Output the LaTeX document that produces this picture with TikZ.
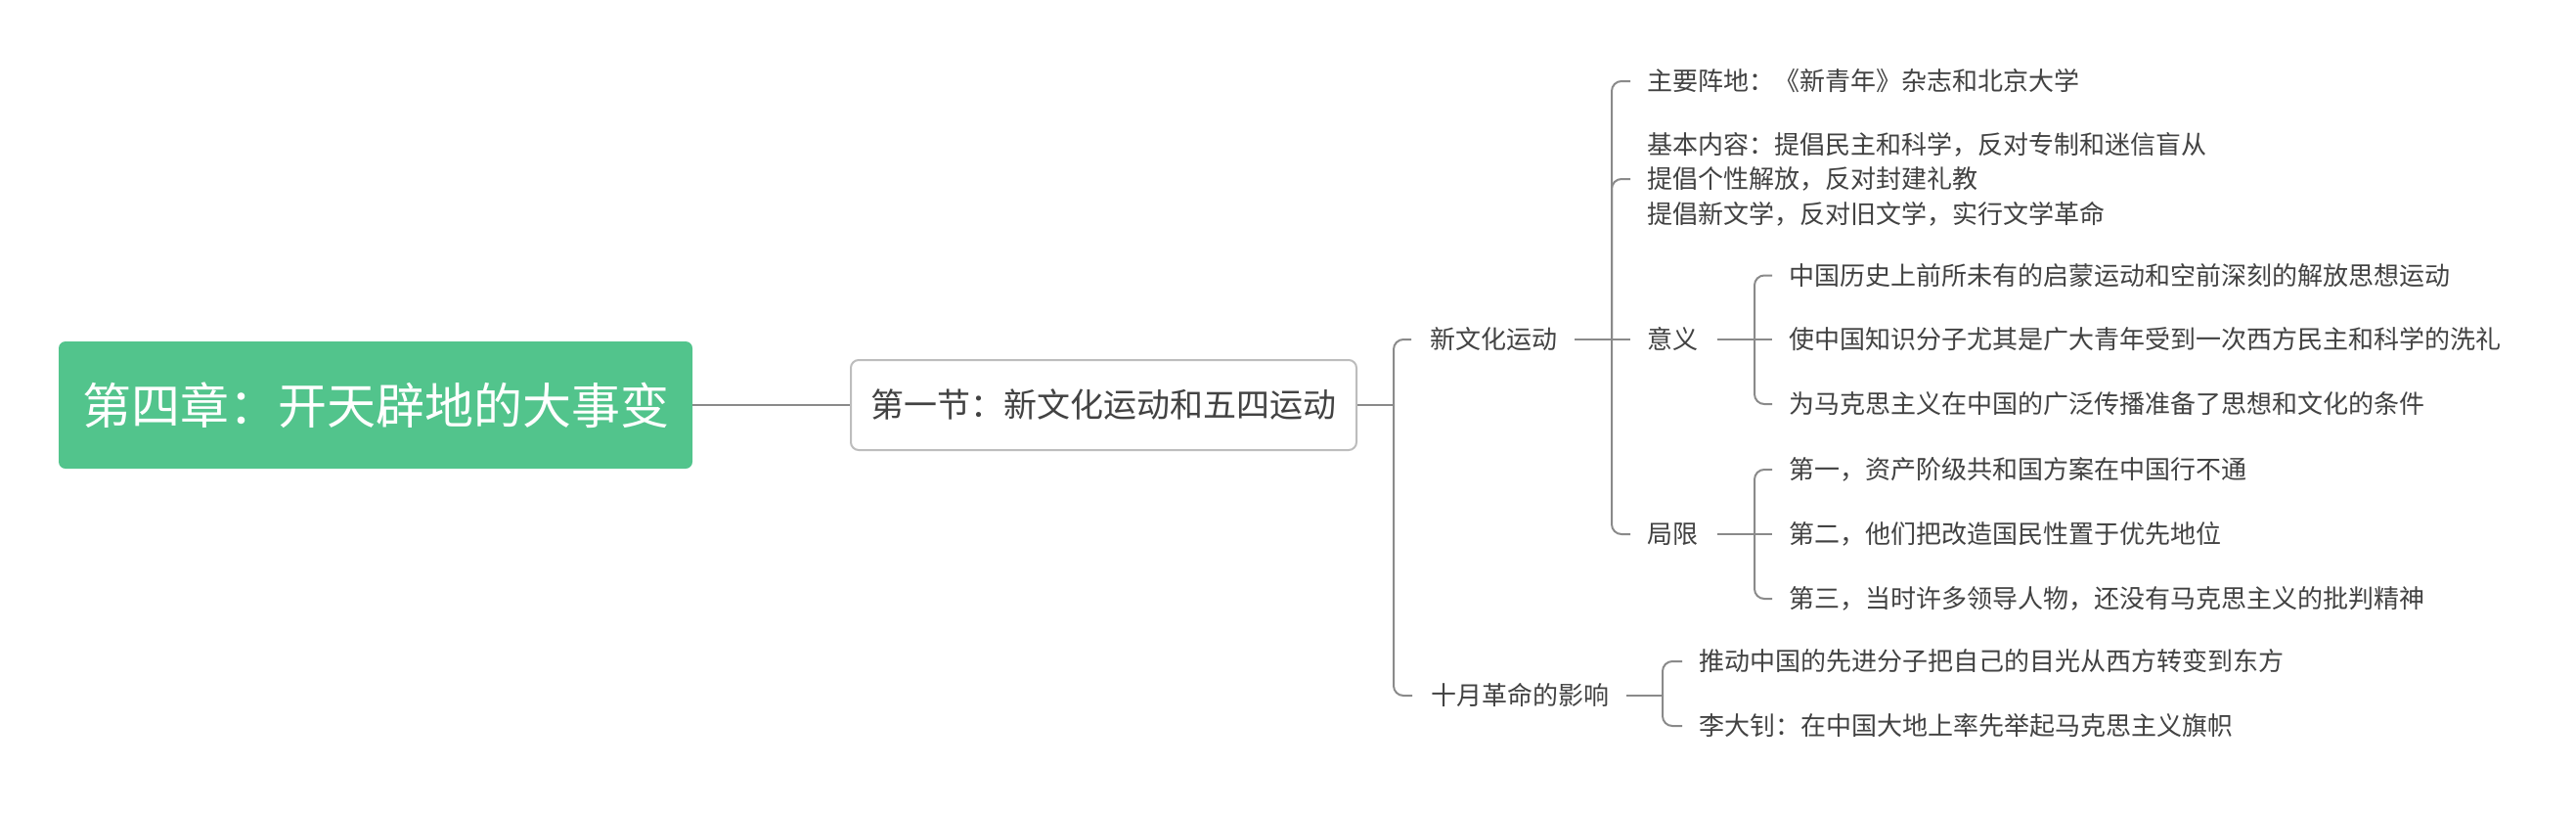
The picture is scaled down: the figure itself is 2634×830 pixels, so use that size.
\documentclass[tikz,border=0pt]{standalone}
\usepackage{fontspec}
\setmainfont{Noto Sans CJK SC}
\definecolor{rootgreen}{HTML}{52C48C}
\definecolor{linegray}{HTML}{8A8A8A}
\definecolor{txtgray}{HTML}{424242}
\definecolor{boxgray}{HTML}{BDBDBD}
\begin{document}
\begin{tikzpicture}[x=1pt,y=-1pt,
 rootbox/.style={rectangle, fill=rootgreen, rounded corners=7pt, minimum width=648pt, minimum height=130pt, text=white, font=\fontsize{50}{60}\selectfont, inner sep=0pt},
 secbox/.style={rectangle, draw=boxgray, line width=2pt, fill=white, rounded corners=8pt, minimum width=517pt, minimum height=92pt, text=txtgray, font=\fontsize{34}{40}\selectfont, inner sep=0pt},
 topic/.style={anchor=west, inner sep=0pt, text=txtgray, font=\fontsize{26}{35.5}\selectfont, text height=22.9pt, text depth=3.1pt},
 multi/.style={anchor=west, inner sep=0pt, text=txtgray, font=\fontsize{26}{35.5}\selectfont, align=left},
 conn/.style={draw=linegray, line width=2pt, rounded corners=10pt},
]
\fill[white] (0,0) rectangle (2634,830);
\useasboundingbox (0,0) rectangle (2634,830);

\node[rootbox] (root) at (384,414) {第四章：开天辟地的大事变};
\node[secbox] (sec) at (1128.5,414) {第一节：新文化运动和五四运动};

\node[topic] (xwh) at (1462,347) {新文化运动};
\node[topic] (sy) at (1463,711) {十月革命的影响};

\node[topic] (zhu) at (1684,83) {主要阵地：《新青年》杂志和北京大学};
\node[multi] (jb) at (1684,183) {基本内容：提倡民主和科学，反对专制和迷信盲从\\提倡个性解放，反对封建礼教\\提倡新文学，反对旧文学，实行文学革命};
\node[topic] (yy) at (1684,347) {意义};
\node[topic] (jx) at (1684,546) {局限};

\node[topic] (yy1) at (1829,281.5) {中国历史上前所未有的启蒙运动和空前深刻的解放思想运动};
\node[topic] (yy2) at (1829,347) {使中国知识分子尤其是广大青年受到一次西方民主和科学的洗礼};
\node[topic] (yy3) at (1829,413) {为马克思主义在中国的广泛传播准备了思想和文化的条件};

\node[topic] (jx1) at (1829,480) {第一，资产阶级共和国方案在中国行不通};
\node[topic] (jx2) at (1829,546) {第二，他们把改造国民性置于优先地位};
\node[topic] (jx3) at (1829,612) {第三，当时许多领导人物，还没有马克思主义的批判精神};

\node[topic] (sy1) at (1737,676) {推动中国的先进分子把自己的目光从西方转变到东方};
\node[topic] (sy2) at (1737,742) {李大钊：在中国大地上率先举起马克思主义旗帜};

\coordinate (b1) at (1425,0);
\coordinate (b2) at (1648,0);
\coordinate (b3) at (1794,0);
\coordinate (b4) at (1794,0);
\coordinate (b5) at (1700,0);

% root -> section
\draw[conn] (root.east) -- (sec.west);

% section -> topics
\draw[conn] (sec.east) -- (sec.east -| b1);
\draw[conn] (sec.east -| b1) |- ([xshift=-19pt]xwh.west);
\draw[conn] (sec.east -| b1) |- ([xshift=-19pt]sy.west);

% 新文化运动 -> children
\draw[conn] ([xshift=18pt]xwh.east) -- (xwh.east -| b2);
\draw[conn] (xwh.east -| b2) |- ([xshift=-17pt]zhu.west);
\draw[conn] (xwh.east -| b2) |- ([xshift=-17pt]jb.west);
\draw[conn] (xwh.east -| b2) -- ([xshift=-17pt]yy.west);
\draw[conn] (xwh.east -| b2) |- ([xshift=-17pt]jx.west);

% 意义 -> children
\draw[conn] ([xshift=20pt]yy.east) -- (yy.east -| b3);
\draw[conn] (yy.east -| b3) |- ([xshift=-17pt]yy1.west);
\draw[conn] (yy.east -| b3) -- ([xshift=-17pt]yy2.west);
\draw[conn] (yy.east -| b3) |- ([xshift=-17pt]yy3.west);

% 局限 -> children
\draw[conn] ([xshift=20pt]jx.east) -- (jx.east -| b4);
\draw[conn] (jx.east -| b4) |- ([xshift=-17pt]jx1.west);
\draw[conn] (jx.east -| b4) -- ([xshift=-17pt]jx2.west);
\draw[conn] (jx.east -| b4) |- ([xshift=-17pt]jx3.west);

% 十月革命的影响 -> children
\draw[conn] ([xshift=18pt]sy.east) -- (sy.east -| b5);
\draw[conn] (sy.east -| b5) |- ([xshift=-17pt]sy1.west);
\draw[conn] (sy.east -| b5) |- ([xshift=-17pt]sy2.west);
\end{tikzpicture}
\end{document}
